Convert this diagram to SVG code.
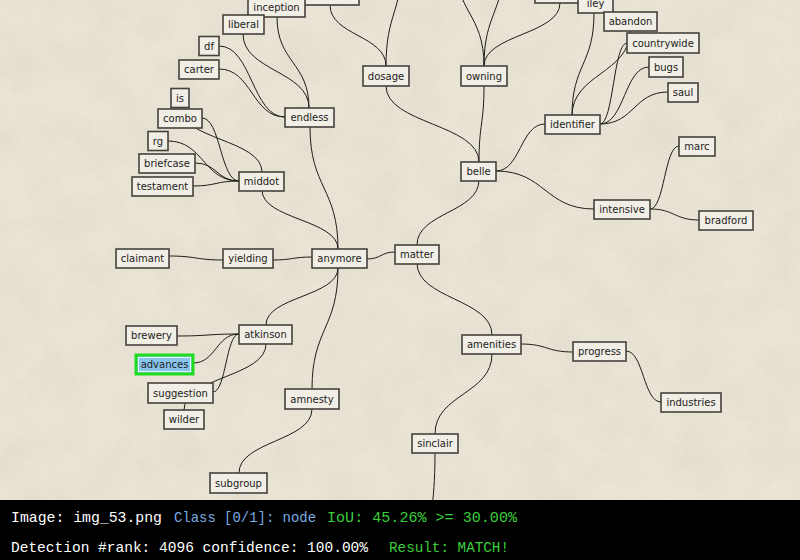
<svg xmlns="http://www.w3.org/2000/svg" width="800" height="560" viewBox="0 0 800 560">
  <defs>
    <filter id="grain" x="0" y="0" width="100%" height="100%">
      <feTurbulence type="fractalNoise" baseFrequency="0.85" numOctaves="2" seed="7" result="fine"/>
      <feColorMatrix in="fine" type="matrix" values="0 0 0 0 0.55  0 0 0 0 0.5  0 0 0 0 0.4  0.5 0 0 0 -0.2" result="fineA"/>
      <feTurbulence type="fractalNoise" baseFrequency="0.025" numOctaves="3" seed="2" result="coarse"/>
      <feColorMatrix in="coarse" type="matrix" values="0 0 0 0 0.6  0 0 0 0 0.55  0 0 0 0 0.45  0.35 0 0 0 -0.12" result="coarseA"/>
      <feMerge>
        <feMergeNode in="coarseA"/>
        <feMergeNode in="fineA"/>
      </feMerge>
    </filter>
    <style>
      .edge { fill: none; stroke: #1e1c19; stroke-width: 1; }
      .box { fill: #f1eee5; stroke: #45423c; stroke-width: 1.6; }
      .lbl { font-family: "DejaVu Sans", "Liberation Sans", sans-serif; font-size: 10px; fill: #222; text-anchor: middle; }
      .hud { font-family: "Liberation Mono", "DejaVu Sans Mono", monospace; font-size: 15px; }
    </style>
  </defs>

  <!-- paper background -->
  <rect x="0" y="0" width="800" height="560" fill="#ebe6d8"/>
  <rect x="0" y="0" width="800" height="500" filter="url(#grain)"/>

  <!-- connectors -->
  <g id="connectors">
    <path class="edge" d="M169,256 C196,256 196,260 223,260"/>
    <path class="edge" d="M273,260 C292.5,260 292.5,257 312,257"/>
    <path class="edge" d="M367,259 C381,259 381,252 395,252"/>
    <path class="edge" d="M262,190 C262,219.5 338,219.5 338,249"/>
    <path class="edge" d="M310,127 C310,188 338,188 338,249"/>
    <path class="edge" d="M266,325 C266,296.5 338,296.5 338,268"/>
    <path class="edge" d="M312,389 C312,328.5 338,328.5 338,268"/>
    <path class="edge" d="M312,409 C312,441 239,441 239,473"/>
    <path class="edge" d="M177,336 C208,336 208,334 239,334"/>
    <path class="edge" d="M193,363 C216,363 216,334 239,334"/>
    <path class="edge" d="M213,392 C226,392 226,334 239,334"/>
    <path class="edge" d="M184,410 C184,377 266,377 266,344"/>
    <path class="edge" d="M417,245 C417,212.5 479,212.5 479,180"/>
    <path class="edge" d="M417,263 C417,299 492,299 492,335"/>
    <path class="edge" d="M521,344 C547,344 547,352 573,352"/>
    <path class="edge" d="M626,351 C643.5,351 643.5,402 661,402"/>
    <path class="edge" d="M492,354 C492,394 435,394 435,434"/>
    <path class="edge" d="M435,453 C435,511.5 428,511.5 428,570"/>
    <path class="edge" d="M386,86 C386,124 479,124 479,162"/>
    <path class="edge" d="M484,86 C484,124 479,124 479,162"/>
    <path class="edge" d="M496,171 C520.5,171 520.5,124 545,124"/>
    <path class="edge" d="M496,171 C545,171 545,209 594,209"/>
    <path class="edge" d="M650,209 C664.5,209 664.5,146 679,146"/>
    <path class="edge" d="M650,209 C674.5,209 674.5,220 699,220"/>
    <path class="edge" d="M572,116 C572,64.5 594,64.5 594,13"/>
    <path class="edge" d="M572,116 C572,73.5 630,73.5 630,31"/>
    <path class="edge" d="M600,124 C613.5,124 613.5,43 627,43"/>
    <path class="edge" d="M600,124 C624.5,124 624.5,67 649,67"/>
    <path class="edge" d="M600,124 C634,124 634,92 668,92"/>
    <path class="edge" d="M484,66 C484,13 455,13 455,-40"/>
    <path class="edge" d="M484,66 C484,13 504,13 504,-40"/>
    <path class="edge" d="M484,66 C484,34.5 560,34.5 560,3"/>
    <path class="edge" d="M386,66 C386,13 402,13 402,-40"/>
    <path class="edge" d="M386,66 C386,35.5 330,35.5 330,5"/>
    <path class="edge" d="M309,108 C309,62.5 277,62.5 277,17"/>
    <path class="edge" d="M309,108 C309,71 243,71 243,34"/>
    <path class="edge" d="M219,46 C252,46 252,117 285,117"/>
    <path class="edge" d="M219,69 C252,69 252,117 285,117"/>
    <path class="edge" d="M180,107 C180,139.5 262,139.5 262,172"/>
    <path class="edge" d="M202,118 C220.5,118 220.5,181 239,181"/>
    <path class="edge" d="M168,141 C203.5,141 203.5,181 239,181"/>
    <path class="edge" d="M195,163 C217,163 217,181 239,181"/>
    <path class="edge" d="M193,186 C216,186 216,181 239,181"/>
  </g>

  <!-- nodes -->
  <g id="n-top-a"><rect class="box" x="302" y="-14" width="57" height="19"/></g>
  <g id="n-top-b"><rect class="box" x="535" y="-16" width="52" height="19"/></g>
  <g id="n-inception"><rect class="box" x="248" y="-2" width="57" height="19"/><text class="lbl" x="276.5" y="11">inception</text></g>
  <g id="n-iley"><rect class="box" x="578" y="-6" width="35" height="19"/><text class="lbl" x="595.5" y="7">iley</text></g>
  <g id="n-liberal"><rect class="box" x="223" y="15" width="41" height="19"/><text class="lbl" x="243.5" y="28">liberal</text></g>
  <g id="n-df"><rect class="box" x="199" y="36.5" width="20" height="19"/><text class="lbl" x="209" y="49.5">df</text></g>
  <g id="n-carter"><rect class="box" x="179" y="60" width="40" height="19"/><text class="lbl" x="199" y="73">carter</text></g>
  <g id="n-is"><rect class="box" x="171" y="88.5" width="18" height="19"/><text class="lbl" x="180" y="101.5">is</text></g>
  <g id="n-combo"><rect class="box" x="158" y="109" width="44" height="19"/><text class="lbl" x="180" y="122">combo</text></g>
  <g id="n-rg"><rect class="box" x="148" y="131.5" width="20" height="19"/><text class="lbl" x="158" y="144.5">rg</text></g>
  <g id="n-briefcase"><rect class="box" x="139" y="154" width="56" height="19"/><text class="lbl" x="167" y="167">briefcase</text></g>
  <g id="n-testament"><rect class="box" x="132" y="177" width="61" height="19"/><text class="lbl" x="162.5" y="190">testament</text></g>
  <g id="n-endless"><rect class="box" x="285" y="108" width="49" height="19"/><text class="lbl" x="309.5" y="121">endless</text></g>
  <g id="n-middot"><rect class="box" x="239" y="172" width="45" height="19"/><text class="lbl" x="261.5" y="185">middot</text></g>
  <g id="n-dosage"><rect class="box" x="363" y="66" width="46" height="20"/><text class="lbl" x="386" y="79.5">dosage</text></g>
  <g id="n-owning"><rect class="box" x="461" y="66" width="46" height="20"/><text class="lbl" x="484" y="79.5">owning</text></g>
  <g id="n-abandon"><rect class="box" x="604" y="12" width="53" height="19"/><text class="lbl" x="630.5" y="25">abandon</text></g>
  <g id="n-countrywide"><rect class="box" x="627" y="33" width="72" height="20"/><text class="lbl" x="663" y="46.5">countrywide</text></g>
  <g id="n-bugs"><rect class="box" x="649" y="57" width="34" height="20"/><text class="lbl" x="666" y="70.5">bugs</text></g>
  <g id="n-saul"><rect class="box" x="668" y="83" width="30" height="19"/><text class="lbl" x="683" y="96">saul</text></g>
  <g id="n-identifier"><rect class="box" x="545" y="115" width="55" height="19"/><text class="lbl" x="572.5" y="128">identifier</text></g>
  <g id="n-belle"><rect class="box" x="461" y="162" width="35" height="19"/><text class="lbl" x="478.5" y="175">belle</text></g>
  <g id="n-marc"><rect class="box" x="679" y="137" width="36" height="19"/><text class="lbl" x="697" y="150">marc</text></g>
  <g id="n-intensive"><rect class="box" x="594" y="200" width="56" height="19"/><text class="lbl" x="622" y="213">intensive</text></g>
  <g id="n-bradford"><rect class="box" x="699" y="211" width="54" height="19"/><text class="lbl" x="726" y="224">bradford</text></g>
  <g id="n-claimant"><rect class="box" x="116" y="249" width="53" height="19"/><text class="lbl" x="142.5" y="262">claimant</text></g>
  <g id="n-yielding"><rect class="box" x="223" y="249" width="50" height="19"/><text class="lbl" x="248" y="262">yielding</text></g>
  <g id="n-anymore"><rect class="box" x="312" y="249" width="55" height="19"/><text class="lbl" x="339.5" y="262">anymore</text></g>
  <g id="n-matter"><rect class="box" x="395" y="245" width="44" height="19"/><text class="lbl" x="417" y="258">matter</text></g>
  <g id="n-brewery"><rect class="box" x="126" y="326" width="51" height="19"/><text class="lbl" x="151.5" y="339">brewery</text></g>
  <g id="n-atkinson"><rect class="box" x="239" y="325" width="53" height="19"/><text class="lbl" x="265.5" y="338">atkinson</text></g>
  <g id="n-advances">
    <rect x="136" y="355" width="57" height="19" fill="#86c4ec" stroke="#1fdc1f" stroke-width="3"/>
    <rect x="138.5" y="357.5" width="52" height="14" fill="none" stroke="#e8f4fb" stroke-width="1"/>
    <text class="lbl" x="164.5" y="368">advances</text>
  </g>
  <g id="n-suggestion"><rect class="box" x="148" y="383" width="65" height="20"/><text class="lbl" x="180.5" y="396.5">suggestion</text></g>
  <g id="n-wilder"><rect class="box" x="164" y="410" width="40" height="19"/><text class="lbl" x="184" y="423">wilder</text></g>
  <g id="n-amnesty"><rect class="box" x="285" y="389" width="54" height="20"/><text class="lbl" x="312" y="402.5">amnesty</text></g>
  <g id="n-subgroup"><rect class="box" x="210" y="473" width="57" height="20"/><text class="lbl" x="238.5" y="486.5">subgroup</text></g>
  <g id="n-sinclair"><rect class="box" x="412" y="434" width="46" height="19"/><text class="lbl" x="435" y="447">sinclair</text></g>
  <g id="n-amenities"><rect class="box" x="462" y="335" width="59" height="19"/><text class="lbl" x="491.5" y="348">amenities</text></g>
  <g id="n-progress"><rect class="box" x="573" y="342" width="53" height="19"/><text class="lbl" x="599.5" y="355">progress</text></g>
  <g id="n-industries"><rect class="box" x="661" y="393" width="60" height="19"/><text class="lbl" x="691" y="406">industries</text></g>

  <!-- status bar -->
  <g id="status">
    <rect x="0" y="500" width="800" height="60" fill="#000"/>
    <text class="hud" x="11" y="522" fill="#ffffff" textLength="151" lengthAdjust="spacingAndGlyphs">Image: img_53.png</text>
    <text class="hud" x="174" y="522" fill="#7aaae0" textLength="142" lengthAdjust="spacingAndGlyphs">Class [0/1]: node</text>
    <text class="hud" x="327" y="522" fill="#3ccf3c" textLength="190" lengthAdjust="spacingAndGlyphs">IoU: 45.26% &gt;= 30.00%</text>
    <text class="hud" x="11" y="552" fill="#ffffff" textLength="357" lengthAdjust="spacingAndGlyphs">Detection #rank: 4096 confidence: 100.00%</text>
    <text class="hud" x="389" y="552" fill="#3ccf3c" textLength="120" lengthAdjust="spacingAndGlyphs">Result: MATCH!</text>
  </g>
</svg>
